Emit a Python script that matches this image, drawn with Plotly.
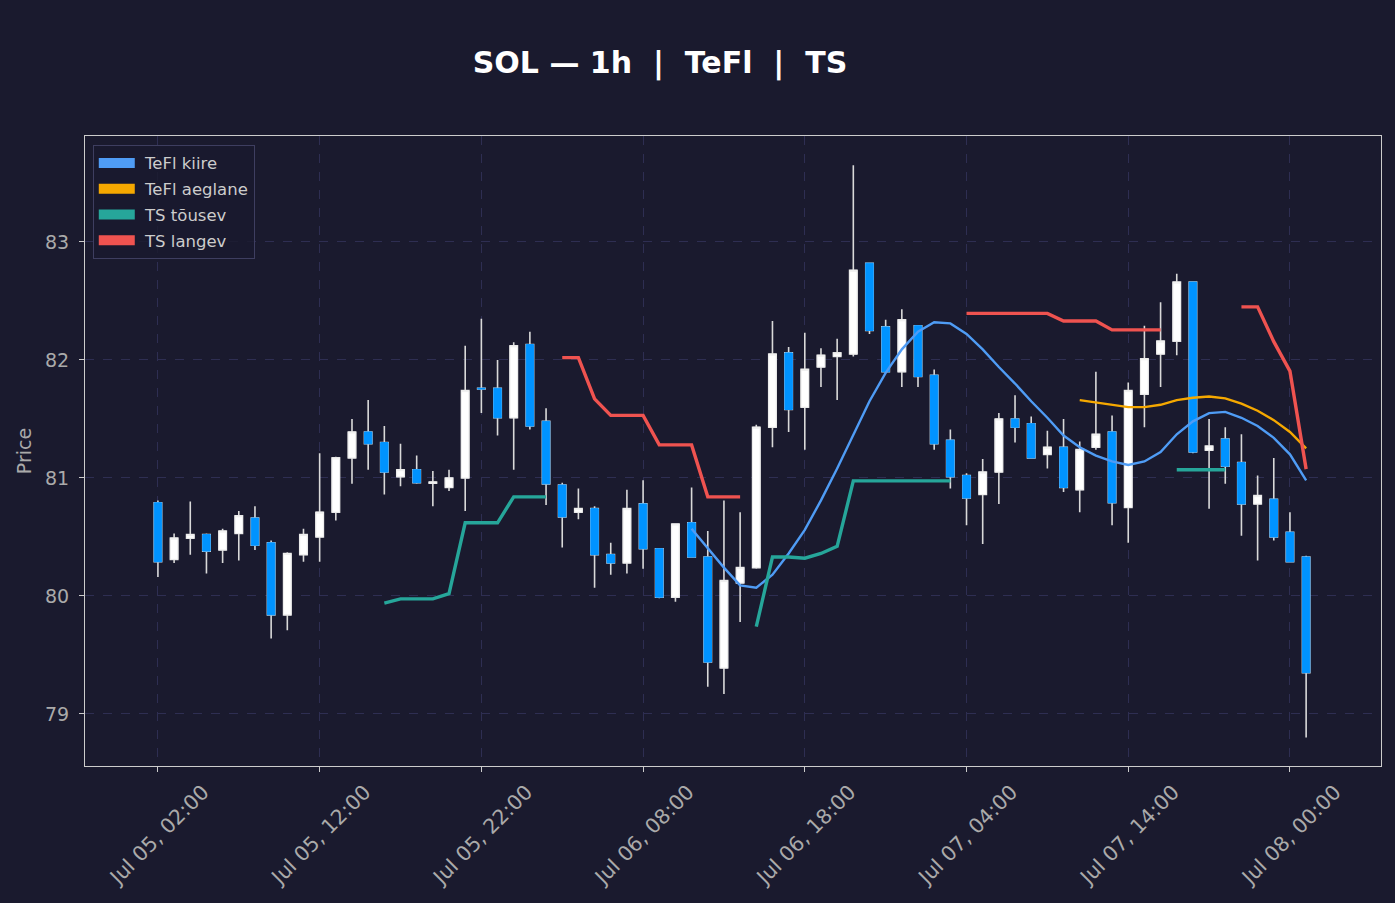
import plotly.graph_objects as go
import pandas as pd

# ---------------- data ----------------
times = pd.date_range("2025-07-05 02:00", periods=72, freq="h")

opens = [80.79, 80.31, 80.49, 80.52, 80.39, 80.53, 80.66, 80.45, 79.84, 80.35,
         80.50, 80.71, 81.17, 81.39, 81.30, 81.01, 81.07, 80.955, 80.92, 81.00,
         81.76, 81.76, 81.51, 82.13, 81.48, 80.94, 80.71, 80.74, 80.35, 80.28,
         80.78, 80.40, 79.99, 80.62, 80.33, 79.39, 80.11, 80.24, 81.43, 82.06,
         81.60, 81.94, 82.03, 82.05, 82.82, 82.28, 81.90, 82.29, 81.87, 81.32,
         81.02, 80.86, 81.05, 81.50, 81.46, 81.20, 81.26, 80.90, 81.26, 81.39,
         80.75, 81.71, 82.05, 82.16, 82.66, 81.235, 81.33, 81.13, 80.78, 80.82,
         80.54, 80.33]
highs = [80.81, 80.53, 80.80, 80.53, 80.57, 80.72, 80.76, 80.47, 80.37, 80.57,
         81.21, 81.18, 81.50, 81.66, 81.44, 81.29, 81.19, 81.06, 81.07, 82.12,
         82.35, 82.00, 82.15, 82.24, 81.59, 80.96, 80.91, 80.76, 80.45, 80.90,
         80.98, 80.40, 80.61, 80.92, 80.55, 80.81, 80.71, 81.45, 82.33, 82.11,
         82.23, 82.10, 82.18, 83.65, 82.82, 82.34, 82.43, 82.29, 81.92, 81.41,
         81.04, 81.16, 81.55, 81.70, 81.52, 81.40, 81.50, 81.31, 81.90, 81.53,
         81.81, 82.29, 82.49, 82.73, 82.66, 81.50, 81.43, 81.37, 81.02, 81.17,
         80.71, 80.34]
lows = [80.16, 80.28, 80.35, 80.19, 80.28, 80.30, 80.39, 79.64, 79.71, 80.29,
        80.29, 80.64, 80.95, 81.07, 80.86, 80.93, 80.95, 80.76, 80.89, 80.72,
        81.55, 81.36, 81.07, 81.41, 80.77, 80.41, 80.65, 80.07, 80.18, 80.19,
        80.23, 79.98, 79.95, 80.33, 79.23, 79.17, 79.78, 80.23, 81.26, 81.39,
        81.24, 81.77, 81.66, 82.03, 82.22, 81.89, 81.77, 81.77, 81.24, 80.91,
        80.60, 80.44, 80.78, 81.30, 81.17, 81.08, 80.88, 80.71, 81.24, 80.60,
        80.45, 81.43, 81.77, 82.04, 81.21, 80.74, 80.95, 80.51, 80.30, 80.47,
        80.29, 78.80]
closes = [80.29, 80.49, 80.52, 80.38, 80.55, 80.68, 80.43, 79.84, 80.36, 80.52,
          80.71, 81.17, 81.39, 81.29, 81.05, 81.07, 80.96, 80.965, 81.00, 81.74,
          81.755, 81.51, 82.12, 81.44, 80.95, 80.67, 80.74, 80.35, 80.28, 80.74,
          80.40, 79.99, 80.61, 80.33, 79.44, 80.13, 80.24, 81.43, 82.05, 81.58,
          81.92, 82.04, 82.06, 82.76, 82.25, 81.90, 82.34, 81.86, 81.29, 81.01,
          80.83, 81.05, 81.50, 81.43, 81.17, 81.26, 80.92, 81.24, 81.37, 80.79,
          81.74, 82.01, 82.16, 82.66, 81.22, 81.27, 81.10, 80.78, 80.85, 80.50,
          80.29, 79.35]

N = None
tefl_fast = [N] * 33 + [80.57, 80.40, 80.24, 80.09, 80.07, 80.18, 80.36, 80.56,
                        80.81, 81.08, 81.36, 81.65, 81.89, 82.09, 82.24, 82.32,
                        82.31, 82.22, 82.09, 81.94, 81.80, 81.65, 81.51, 81.36,
                        81.26, 81.19, 81.14, 81.11, 81.14, 81.22, 81.37, 81.48,
                        81.55, 81.56, 81.51, 81.44, 81.34, 81.20, 80.98]
tefl_slow = [N] * 57 + [81.66, 81.64, 81.62, 81.60, 81.60, 81.62, 81.66, 81.68,
                        81.69, 81.675, 81.63, 81.57, 81.49, 81.39, 81.25]
ts_up = ([N] * 14 + [79.94, 79.975, 79.975, 79.975, 80.02, 80.62, 80.62, 80.62,
                     80.84, 80.84, 80.84]
         + [N] * 12 + [79.74, 80.33, 80.33, 80.32, 80.36, 80.42,
                       80.975, 80.975, 80.975, 80.975, 80.975, 80.975, 80.975]
         + [N] * 13 + [81.07, 81.07, 81.07, 81.07] + [N] * 5)
ts_down = ([N] * 25 + [82.02, 82.02, 81.67, 81.53, 81.53, 81.53, 81.28, 81.28,
                       81.28, 80.84, 80.84, 80.84]
           + [N] * 13 + [82.395, 82.395, 82.395, 82.395, 82.395, 82.395,
                         82.33, 82.33, 82.33, 82.255, 82.255, 82.255, 82.255]
           + [N] * 4 + [82.45, 82.45, 82.155, 81.905, 81.075])

series_names = ["TeFl kiire", "TeFl aeglane", "TS tõusev", "TS langev"]
series_colors = ["#4f9cf5", "#f5a800", "#26a69a", "#ef5350"]

# ---------------- style ----------------
BG = "#1a1a2e"
UP = "#ffffff"
DOWN = "#0093ff"
WICK = "#d9d9d9"
GRID = "#2e2e52"
TXT = "#aaaaaa"
FONT = "DejaVu Sans"

fig = go.Figure()

# wicks (full range)
fig.add_trace(go.Candlestick(
    x=times, open=opens, high=highs, low=lows, close=closes,
    increasing=dict(line=dict(color=WICK, width=1.6), fillcolor=UP),
    decreasing=dict(line=dict(color=WICK, width=1.6), fillcolor=DOWN),
    showlegend=False, name="SOL"))
# bodies on top (outline same as fill)
body_hi = [max(o, c) for o, c in zip(opens, closes)]
body_lo = [min(o, c) for o, c in zip(opens, closes)]
fig.add_trace(go.Candlestick(
    x=times, open=opens, high=body_hi, low=body_lo, close=closes,
    increasing=dict(line=dict(color="#eeeeee", width=1), fillcolor=UP),
    decreasing=dict(line=dict(color=DOWN, width=1), fillcolor=DOWN),
    showlegend=False, hoverinfo="skip", name="body"))

line_data = [tefl_fast, tefl_slow, ts_up, ts_down]
widths = [2.4, 2.4, 3.4, 3.4]
for name, col, ys, w in zip(series_names, series_colors, line_data, widths):
    fig.add_trace(go.Scatter(x=times, y=ys, mode="lines", name=name,
                             line=dict(color=col, width=w),
                             connectgaps=False, showlegend=False))
# legend patches
for i, (name, col) in enumerate(zip(series_names, series_colors)):
    fig.add_trace(go.Scatter(x=[None], y=[None], mode="lines",
                             name="\u00a0" + name, legendgroup="g%d" % i,
                             line=dict(color=col, width=12), showlegend=True))

x0 = times[0] - pd.Timedelta(hours=4.51)
x1 = times[0] + pd.Timedelta(hours=75.63)

fig.update_layout(
    width=1395, height=903,
    paper_bgcolor=BG, plot_bgcolor=BG,
    margin=dict(l=85, r=14, t=136, b=137),
    font=dict(family=FONT, color=TXT, size=19),
    title=dict(text="SOL — 1h\u00a0\u00a0|\u00a0\u00a0TeFl\u00a0\u00a0|\u00a0\u00a0TS",
               x=660 / 1395, xanchor="center", xref="container",
               y=1 - 62 / 903, yanchor="middle", yref="container",
               font=dict(family=FONT, size=30, color="#ffffff", weight="bold")),
    showlegend=True,
    legend=dict(x=0.006, y=0.986, xanchor="left", yanchor="top",
                bgcolor="rgba(26,26,46,0.85)", bordercolor="#3e3e60", borderwidth=1,
                font=dict(family=FONT, size=16.5, color="#cccccc"),
                itemwidth=36, tracegroupgap=1.3),
    boxgap=0.34,
    hovermode="x",
)
fig.update_xaxes(
    range=[x0, x1], rangeslider=dict(visible=False),
    type="date", tick0=times[0], dtick=10 * 3600 * 1000,
    tickformat="%b %d, %H:%M", tickangle=-45,
    ticks="outside", ticklen=5, tickcolor="#cccccc", tickwidth=1,
    tickfont=dict(family=FONT, size=20.5, color=TXT),
    ticklabelshift=45, ticklabelstandoff=0,
    showgrid=True, gridcolor=GRID, griddash="dash", gridwidth=1,
    showline=True, linecolor="#cccccc", linewidth=1, mirror=True,
    zeroline=False)
fig.update_yaxes(
    range=[78.559, 83.898], dtick=1, tick0=79,
    ticks="outside", ticklen=5, tickcolor="#cccccc", tickwidth=1,
    tickfont=dict(family=FONT, size=19, color=TXT),
    ticklabelstandoff=6,
    title=dict(text="Price", font=dict(family=FONT, size=19, color=TXT), standoff=8),
    showgrid=True, gridcolor=GRID, griddash="dash", gridwidth=1,
    showline=True, linecolor="#cccccc", linewidth=1, mirror=True,
    zeroline=False)

fig.write_html("out.html")
